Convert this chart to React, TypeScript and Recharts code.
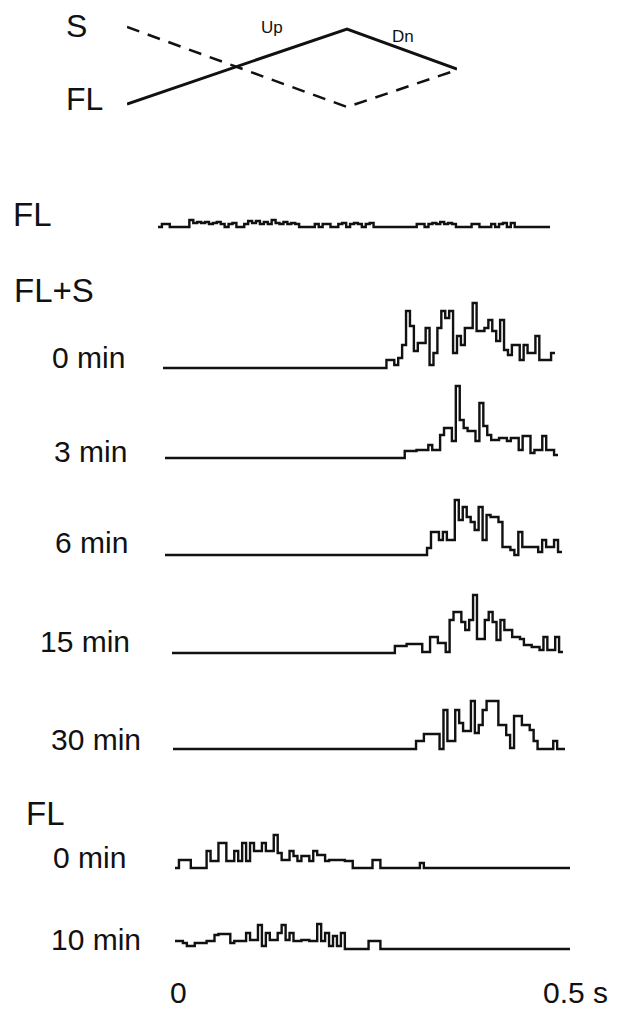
import React from "react";
import { LineChart, Line, XAxis, YAxis } from "recharts";

// stimulus ramp (top schematic): Up phase then Dn phase
const rampT = [0, 0.2, 0.3];
const rampS = [83, 3, 40];
const rampFL = [6, 81, 41];

// PSTH bins, 100 bins x 5 ms over 0 - 0.5 s (height in px of the original plot)
const flBefore = [
  0, 3, 3, 0, 0, 0, 0, 0, 7, 4,
  5, 4, 5, 3, 4, 5, 3, 0, 3, 4,
  0, 0, 3, 6, 4, 6, 3, 5, 3, 7,
  4, 3, 5, 3, 4, 3, 0, 0, 0, 0,
  3, 0, 3, 3, 0, 0, 3, 4, 0, 3,
  4, 3, 0, 3, 4, 0, 0, 0, 0, 0,
  0, 0, 0, 0, 0, 0, 3, 3, 0, 3,
  4, 3, 5, 3, 4, 3, 0, 0, 0, 0,
  3, 3, 0, 0, 0, 3, 0, 3, 4, 0,
  4, 0, 0, 0, 0, 0, 0, 0, 0, 0,
];
const fls0 = [
  0, 0, 0, 0, 0, 0, 0, 0, 0, 0,
  0, 0, 0, 0, 0, 0, 0, 0, 0, 0,
  0, 0, 0, 0, 0, 0, 0, 0, 0, 0,
  0, 0, 0, 0, 0, 0, 0, 0, 0, 0,
  0, 0, 0, 0, 0, 0, 0, 0, 0, 0,
  0, 0, 0, 0, 0, 0, 0, 8, 8, 3,
  10, 23, 57, 42, 17, 25, 25, 40, 3, 15,
  40, 57, 50, 57, 15, 32, 23, 40, 40, 65,
  37, 37, 40, 48, 37, 27, 48, 18, 13, 23,
  23, 8, 23, 15, 15, 32, 8, 8, 8, 15,
];
const fls3 = [
  0, 0, 0, 0, 0, 0, 0, 0, 0, 0,
  0, 0, 0, 0, 0, 0, 0, 0, 0, 0,
  0, 0, 0, 0, 0, 0, 0, 0, 0, 0,
  0, 0, 0, 0, 0, 0, 0, 0, 0, 0,
  0, 0, 0, 0, 0, 0, 0, 0, 0, 0,
  0, 0, 0, 0, 0, 0, 0, 0, 0, 0,
  0, 7, 7, 7, 8, 8, 8, 13, 8, 8,
  23, 30, 30, 17, 72, 38, 30, 27, 27, 17,
  55, 32, 23, 18, 18, 20, 20, 17, 20, 20,
  8, 22, 22, 5, 8, 8, 22, 8, 8, 3,
];
const fls6 = [
  0, 0, 0, 0, 0, 0, 0, 0, 0, 0,
  0, 0, 0, 0, 0, 0, 0, 0, 0, 0,
  0, 0, 0, 0, 0, 0, 0, 0, 0, 0,
  0, 0, 0, 0, 0, 0, 0, 0, 0, 0,
  0, 0, 0, 0, 0, 0, 0, 0, 0, 0,
  0, 0, 0, 0, 0, 0, 0, 0, 0, 0,
  0, 0, 0, 0, 0, 0, 7, 23, 23, 15,
  23, 15, 15, 55, 35, 48, 38, 33, 25, 48,
  15, 40, 38, 38, 33, 8, 8, 5, 0, 23,
  8, 8, 8, 8, 3, 15, 8, 8, 15, 3,
];
const fls15 = [
  0, 0, 0, 0, 0, 0, 0, 0, 0, 0,
  0, 0, 0, 0, 0, 0, 0, 0, 0, 0,
  0, 0, 0, 0, 0, 0, 0, 0, 0, 0,
  0, 0, 0, 0, 0, 0, 0, 0, 0, 0,
  0, 0, 0, 0, 0, 0, 0, 0, 0, 0,
  0, 0, 0, 0, 0, 0, 0, 7, 7, 7,
  9, 9, 9, 9, 1, 1, 16, 16, 10, 10,
  1, 33, 41, 41, 31, 23, 33, 58, 14, 14,
  33, 41, 31, 13, 33, 23, 23, 16, 16, 14,
  8, 8, 6, 6, 3, 16, 3, 3, 16, 1,
];
const fls30 = [
  0, 0, 0, 0, 0, 0, 0, 0, 0, 0,
  0, 0, 0, 0, 0, 0, 0, 0, 0, 0,
  0, 0, 0, 0, 0, 0, 0, 0, 0, 0,
  0, 0, 0, 0, 0, 0, 0, 0, 0, 0,
  0, 0, 0, 0, 0, 0, 0, 0, 0, 0,
  0, 0, 0, 0, 0, 0, 0, 0, 0, 0,
  0, 0, 8, 8, 15, 15, 15, 15, 0, 39,
  8, 8, 39, 26, 18, 18, 48, 16, 24, 39,
  48, 48, 48, 24, 24, 14, 1, 33, 33, 24,
  24, 19, 8, 0, 0, 0, 0, 8, 0, 0,
];
const fl0 = [
  0, 8, 8, 8, 0, 0, 0, 0, 17, 7,
  7, 25, 25, 7, 7, 17, 7, 25, 7, 25,
  17, 17, 25, 17, 17, 33, 15, 8, 8, 17,
  12, 7, 12, 12, 7, 17, 13, 13, 7, 8,
  8, 8, 8, 7, 7, 0, 0, 0, 0, 0,
  8, 8, 0, 0, 0, 0, 0, 0, 0, 0,
  0, 0, 5, 0, 0, 0, 0, 0, 0, 0,
  0, 0, 0, 0, 0, 0, 0, 0, 0, 0,
  0, 0, 0, 0, 0, 0, 0, 0, 0, 0,
  0, 0, 0, 0, 0, 0, 0, 0, 0, 0,
];
const fl10 = [
  8, 8, 6, 3, 3, 6, 6, 6, 8, 8,
  14, 15, 15, 15, 6, 8, 8, 8, 16, 9,
  9, 24, 3, 16, 9, 9, 16, 24, 9, 16,
  8, 8, 9, 9, 8, 8, 25, 8, 16, 3,
  13, 3, 16, 0, 0, 0, 0, 0, 0, 8,
  8, 8, 0, 0, 0, 0, 0, 0, 0, 0,
  0, 0, 0, 0, 0, 0, 0, 0, 0, 0,
  0, 0, 0, 0, 0, 0, 0, 0, 0, 0,
  0, 0, 0, 0, 0, 0, 0, 0, 0, 0,
  0, 0, 0, 0, 0, 0, 0, 0, 0, 0,
];

const INK = "#111";
const FONT = "'Liberation Sans', Arial, sans-serif";
const HIST_H = 80;

const toSteps = (bins: number[]) => {
  const pts = bins.map((v, i) => ({ t: i * 0.005, v }));
  pts.push({ t: 0.5, v: bins[bins.length - 1] });
  return pts;
};

function Trace({ bins, left, baseline, width }: { bins: number[]; left: number; baseline: number; width: number }) {
  return (
    <div style={{ position: "absolute", left, top: baseline - HIST_H - 2 }}>
      <LineChart width={width} height={HIST_H + 4} data={toSteps(bins)} margin={{ top: 2, right: 0, bottom: 2, left: 0 }}>
        <XAxis dataKey="t" type="number" domain={[0, 0.5]} hide />
        <YAxis type="number" domain={[0, HIST_H]} hide />
        <Line type="stepAfter" dataKey="v" stroke={INK} strokeWidth={2.4} dot={false} isAnimationActive={false} />
      </LineChart>
    </div>
  );
}

const traces = [
  { bins: flBefore, left: 158, baseline: 227, width: 392 },
  { bins: fls0, left: 163, baseline: 368, width: 392 },
  { bins: fls3, left: 165, baseline: 458, width: 393 },
  { bins: fls6, left: 165, baseline: 555, width: 397 },
  { bins: fls15, left: 172, baseline: 653, width: 391 },
  { bins: fls30, left: 173, baseline: 749, width: 392 },
  { bins: fl0, left: 175, baseline: 868, width: 395 },
  { bins: fl10, left: 175, baseline: 949, width: 395 },
];

const labels = [
  { text: "S", x: 66, y: 37, size: 32 },
  { text: "FL", x: 66, y: 110, size: 32 },
  { text: "Up", x: 261, y: 33, size: 17 },
  { text: "Dn", x: 392, y: 42, size: 17 },
  { text: "FL", x: 13, y: 226, size: 33 },
  { text: "FL+S", x: 14, y: 302, size: 33 },
  { text: "0 min", x: 52, y: 368, size: 30 },
  { text: "3 min", x: 54, y: 462, size: 30 },
  { text: "6 min", x: 55, y: 553, size: 30 },
  { text: "15 min", x: 40, y: 652, size: 30 },
  { text: "30 min", x: 51, y: 750, size: 30 },
  { text: "FL", x: 26, y: 825, size: 33 },
  { text: "0 min", x: 53, y: 868, size: 30 },
  { text: "10 min", x: 51, y: 950, size: 30 },
  { text: "0", x: 170, y: 1003, size: 30 },
  { text: "0.5 s", x: 543, y: 1003, size: 30 },
];

export default function App() {
  const ramp = rampT.map((t, i) => ({ t, s: rampS[i], fl: rampFL[i] }));
  return (
    <div style={{ position: "absolute", left: 0, top: 0, width: 626, height: 1011, background: "#fff", overflow: "hidden" }}>
      <div style={{ position: "absolute", left: 127, top: 20 }}>
        <LineChart width={330} height={90} data={ramp} margin={{ top: 0, right: 0, bottom: 0, left: 0 }}>
          <XAxis dataKey="t" type="number" domain={[0, 0.3]} hide />
          <YAxis type="number" domain={[0, 90]} hide />
          <Line type="linear" dataKey="s" stroke={INK} strokeWidth={2.5} strokeDasharray="13 9" dot={false} isAnimationActive={false} />
          <Line type="linear" dataKey="fl" stroke={INK} strokeWidth={3} dot={false} isAnimationActive={false} />
        </LineChart>
      </div>
      {traces.map((tr, i) => (
        <Trace key={i} {...tr} />
      ))}
      <svg width={626} height={1011} style={{ position: "absolute", left: 0, top: 0, pointerEvents: "none" }}>
        {labels.map((l, i) => (
          <text key={i} x={l.x} y={l.y} fontSize={l.size} fontFamily={FONT} fill={INK}>
            {l.text}
          </text>
        ))}
      </svg>
    </div>
  );
}
